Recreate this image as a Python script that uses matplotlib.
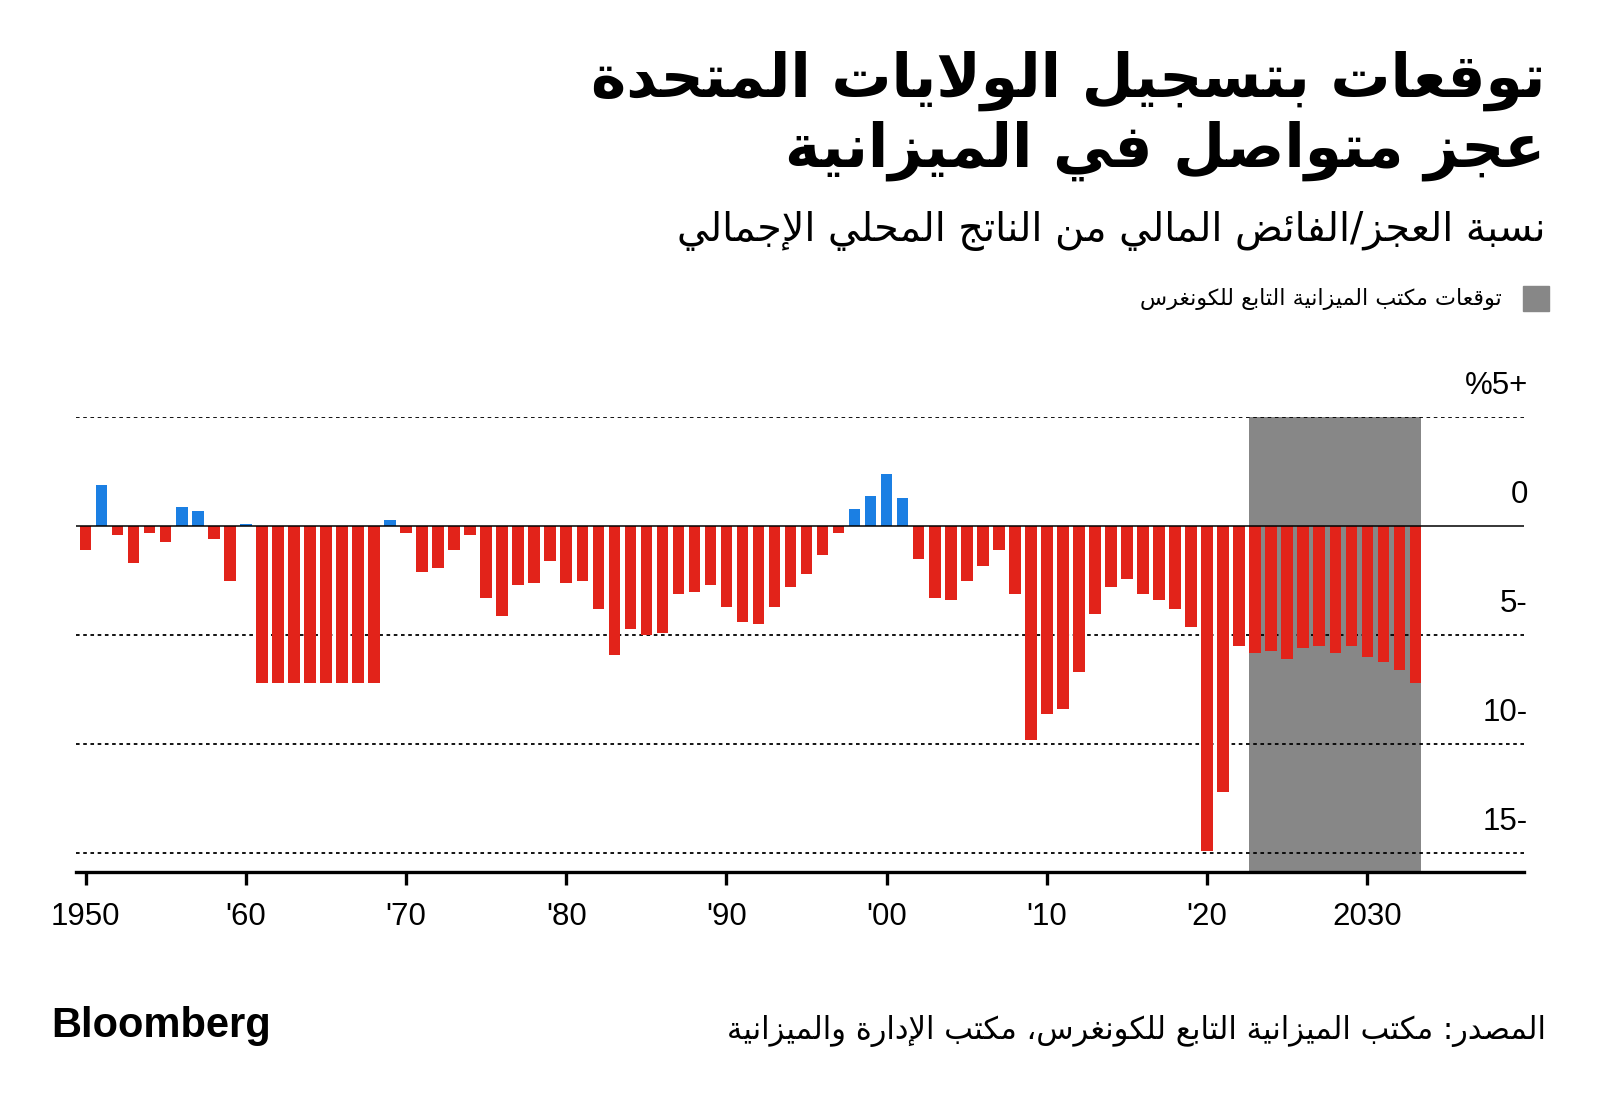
import matplotlib
matplotlib.use('Agg')
from matplotlib import pyplot as plt
from matplotlib.patches import Rectangle

# --- data (share of GDP, %) ---
years = list(range(1950, 2034))
balance = [
    -1.1, 1.9, -0.4, -1.7, -0.3, -0.7, 0.9, 0.7, -0.6, -2.5,      # 1950s
    0.1, -7.2, -7.2, -7.2, -7.2, -7.2, -7.2, -7.2, -7.2, 0.3,     # 1960s
    -0.3, -2.1, -1.9, -1.1, -0.4, -3.3, -4.1, -2.7, -2.6, -1.6,   # 1970s
    -2.6, -2.5, -3.8, -5.9, -4.7, -5.0, -4.9, -3.1, -3.0, -2.7,   # 1980s
    -3.7, -4.4, -4.5, -3.7, -2.8, -2.2, -1.3, -0.3, 0.8, 1.4,     # 1990s
    2.4, 1.3, -1.5, -3.3, -3.4, -2.5, -1.8, -1.1, -3.1, -9.8,     # 2000s
    -8.6, -8.4, -6.7, -4.0, -2.8, -2.4, -3.1, -3.4, -3.8, -4.6,   # 2010s
    -14.9, -12.2, -5.5, -5.8, -5.7, -6.1, -5.6, -5.5, -5.8, -5.5, # 2020s
    -6.0, -6.2, -6.6, -7.2,                                       # 2030s
]
first_projection = 2023
tick_years = [1950, 1960, 1970, 1980, 1990, 2000, 2010, 2020, 2030]
tick_labels = ['1950', "'60", "'70", "'80", "'90", "'00", "'10", "'20", '2030']
y_levels = [5, 0, -5, -10, -15]
y_labels = ['%5+', '0', '5-', '10-', '15-']

title_1 = 'توقعات بتسجيل الولايات المتحدة'
title_2 = 'عجز متواصل في الميزانية'
subtitle = 'نسبة العجز/الفائض المالي من الناتج المحلي الإجمالي'
legend_text = 'توقعات مكتب الميزانية التابع للكونغرس'
source_text = 'المصدر: مكتب الميزانية التابع للكونغرس، مكتب الإدارة والميزانية'

RED = '#e2231a'
BLUE = '#1b7fe3'
SHADE = '#878787'

# --- minimal arabic shaping (presentation forms + right-to-left order) ---
AR_FORMS = {
    'ء': (0xFE80, 1), 'آ': (0xFE81, 2), 'أ': (0xFE83, 2), 'ؤ': (0xFE85, 2),
    'إ': (0xFE87, 2), 'ئ': (0xFE89, 4), 'ا': (0xFE8D, 2), 'ب': (0xFE8F, 4),
    'ة': (0xFE93, 2), 'ت': (0xFE95, 4), 'ث': (0xFE99, 4), 'ج': (0xFE9D, 4),
    'ح': (0xFEA1, 4), 'خ': (0xFEA5, 4), 'د': (0xFEA9, 2), 'ذ': (0xFEAB, 2),
    'ر': (0xFEAD, 2), 'ز': (0xFEAF, 2), 'س': (0xFEB1, 4), 'ش': (0xFEB5, 4),
    'ص': (0xFEB9, 4), 'ض': (0xFEBD, 4), 'ط': (0xFEC1, 4), 'ظ': (0xFEC5, 4),
    'ع': (0xFEC9, 4), 'غ': (0xFECD, 4), 'ف': (0xFED1, 4), 'ق': (0xFED5, 4),
    'ك': (0xFED9, 4), 'ل': (0xFEDD, 4), 'م': (0xFEE1, 4), 'ن': (0xFEE5, 4),
    'ه': (0xFEE9, 4), 'و': (0xFEED, 2), 'ى': (0xFEEF, 2), 'ي': (0xFEF1, 4),
}
LAM_ALEF = {'آ': 0xFEF5, 'أ': 0xFEF7, 'إ': 0xFEF9, 'ا': 0xFEFB}


def shape(text):
    out = []
    i = 0
    while i < len(text):
        ch = text[i]
        if ch not in AR_FORMS:
            out.append(ch)
            i += 1
            continue
        prev = text[i - 1] if i > 0 else ''
        joins_prev = prev in AR_FORMS and AR_FORMS[prev][1] == 4
        nxt = text[i + 1] if i + 1 < len(text) else ''
        if ch == 'ل' and nxt in LAM_ALEF:
            out.append(chr(LAM_ALEF[nxt] + (1 if joins_prev else 0)))
            i += 2
            continue
        base, nforms = AR_FORMS[ch]
        joins_next = nforms == 4 and nxt in AR_FORMS and AR_FORMS[nxt][1] > 1
        if nforms == 1:
            form = 0
        elif joins_prev and joins_next:
            form = 3
        elif joins_prev:
            form = 1
        elif joins_next:
            form = 2
        else:
            form = 0
        out.append(chr(base + form))
        i += 1
    return ''.join(reversed(out))


def main():
    plt.rcParams['font.family'] = ['Liberation Sans', 'DejaVu Sans']
    fig = plt.figure(figsize=(16, 11.05), dpi=100)
    ax = fig.add_axes([0.0478, 0.2105, 0.9044, 0.4119])

    width = 0.72
    colors = [BLUE if v > 0 else RED for v in balance]
    ax.axvspan(first_projection - width / 2, years[-1] + width / 2,
               color=SHADE, lw=0, zorder=0)
    for lvl in [5, -5, -10, -15]:
        ax.axhline(lvl, color='black', lw=1.3, ls=(0, (2, 2)), zorder=1)
    ax.bar(years, balance, width=width, color=colors, zorder=2)
    ax.axhline(0, color='black', lw=1.1, zorder=3)

    ax.set_xlim(1949.43, 2039.75)
    ax.set_ylim(-15.87, 5)
    for s in ['top', 'right', 'left']:
        ax.spines[s].set_visible(False)
    ax.spines['bottom'].set_linewidth(2.4)
    ax.set_yticks([])
    ax.set_xticks(tick_years, tick_labels)
    ax.tick_params(axis='x', length=9, width=2.4, pad=12, labelsize=22.5)

    for lvl, lab in zip(y_levels, y_labels):
        ax.text(1.003, lvl + 1.45, lab, transform=ax.get_yaxis_transform(),
                ha='right', va='center', fontsize=22.5)

    ar = ['DejaVu Sans']
    fig.text(0.966, 0.913, shape(title_1), ha='right', va='baseline',
             fontsize=43, fontweight='bold', family=ar)
    fig.text(0.966, 0.849, shape(title_2), ha='right', va='baseline',
             fontsize=43, fontweight='bold', family=ar)
    fig.text(0.966, 0.782, shape(subtitle), ha='right', va='baseline',
             fontsize=28.5, family=ar)

    fig.patches.append(Rectangle((1523 / 1600, 1 - 311 / 1105), 26 / 1600, 25 / 1105,
                                 transform=fig.transFigure, color=SHADE))
    fig.text(1502 / 1600, 1 - 299 / 1105, shape(legend_text), ha='right',
             va='center', fontsize=16, family=ar)

    fig.text(51 / 1600, 1 - 1026 / 1105, 'Bloomberg', ha='left', va='center',
             fontsize=30, fontweight='bold')
    fig.text(0.966, 1 - 1031 / 1105, shape(source_text), ha='right', va='center',
             fontsize=22, family=ar)

    fig.savefig('out.png', dpi=100)


if __name__ == "__main__":
    main()
